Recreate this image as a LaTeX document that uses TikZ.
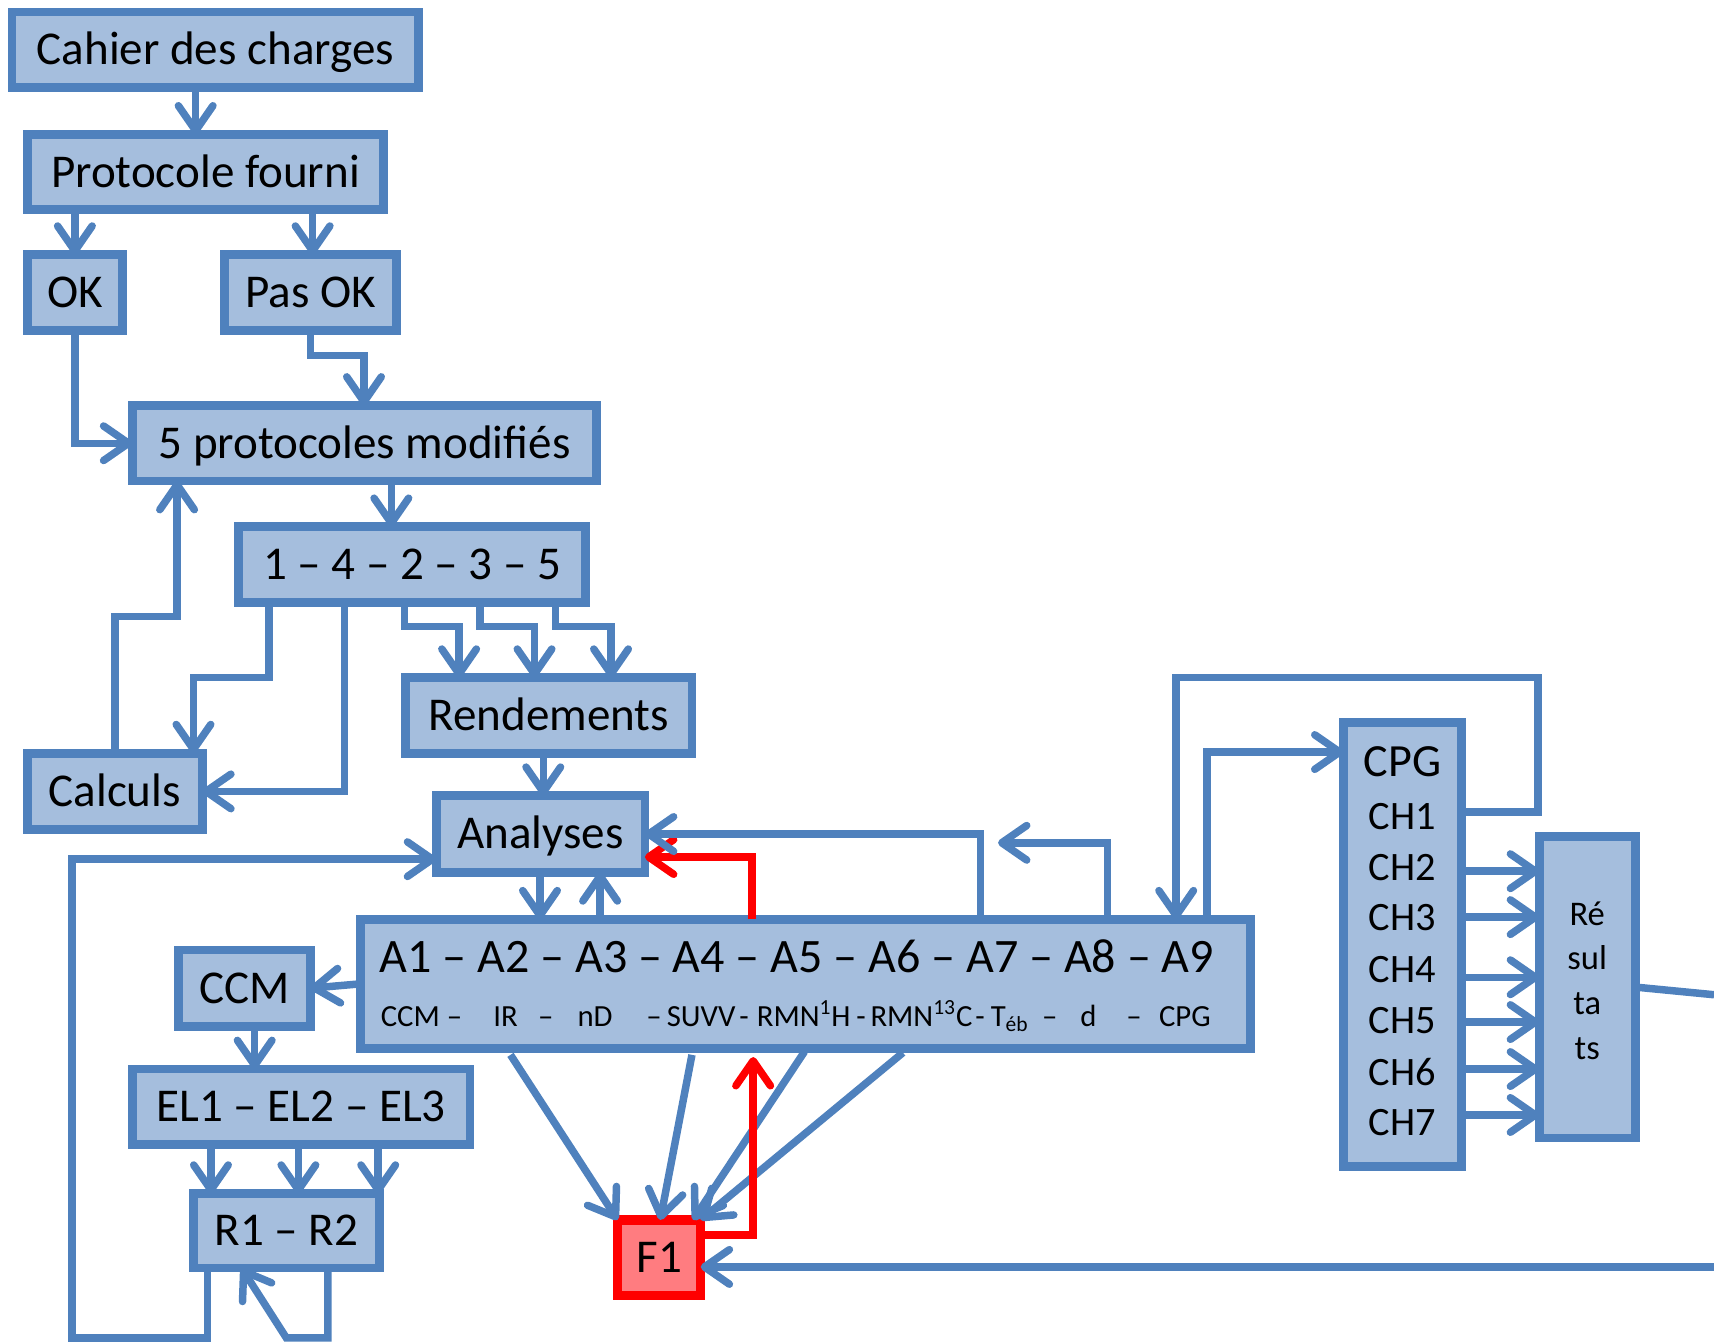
\documentclass[tikz,border=0pt]{standalone}
\usepackage{fontspec}
\setmainfont{Carlito}
\usetikzlibrary{arrows.meta,calc}
\definecolor{bline}{RGB}{79,129,189}
\definecolor{bfill}{RGB}{165,190,221}
\definecolor{rfill}{RGB}{255,124,128}
\begin{document}
\begin{tikzpicture}[x=0.02cm,y=-0.02cm,
  box/.style={draw=bline, fill=bfill, line width=4.6pt, inner sep=0pt, outer sep=0pt, rectangle, text=black, font=\fontsize{24.5}{29}\selectfont, text height=15.5pt, text depth=0pt},
  sz/.style 2 args={minimum width=#1*0.02cm, minimum height=#2*0.02cm},
  tip/.style={-{Straight Barb[length=13pt,width=18pt,round]}},
  conn/.style={draw=bline, line width=3.9pt, tip},
  rconn/.style={draw=red, line width=3.9pt, tip},
  plain/.style={draw=bline, line width=3.9pt},
  small/.style={font=\fontsize{16}{19}\selectfont, inner sep=0pt, anchor=base west},
  chs/.style={font=\fontsize{21}{25}\selectfont, inner sep=0pt, text height=13.3pt, text depth=0pt},
]
\useasboundingbox (0,0) rectangle (1568,1229);

% boxes
\node[box, sz={372}{69}] (cahier) at (197,45.5) {Cahier des charges};
\node[box, sz={326}{69}] (prot) at (188,157.5) {Protocole fourni};
\node[box, sz={87}{69}] (ok) at (68.5,267.5) {OK};
\node[box, sz={158}{69}] (pasok) at (284,267.5) {Pas OK};
\node[box, sz={425}{69}] (prot5) at (333.5,405.5) {5 protocoles modifiés};
\node[box, sz={318}{69}] (seq) at (377,516.5) {1 – 4 – 2 – 3 – 5};
\node[box, sz={262}{69}] (rend) at (502,654.5) {Rendements};
\node[box, sz={160}{70}] (calculs) at (105,724) {Calculs};
\node[box, sz={191}{70}] (ana) at (494.5,763) {Analyses};
\node[box, sz={814}{118}] (abox) at (737,900) {};
\node[box, sz={121}{70}] (ccm) at (223.5,904) {CCM};
\node[box, sz={309}{69}] (el) at (275.5,1012.5) {EL1 – EL2 – EL3};
\node[box, sz={170}{68}] (rr) at (262,1126) {R1 – R2};
\node[box, draw=red, fill=rfill, line width=5pt, sz={76}{69}] (f1) at (603,1150.5) {F1};
\node[box, sz={108}{406}] (cpg) at (1283,864) {};
\node[box, sz={88}{276}] (res) at (1452,903) {};

% texts in the analysis box
\node[anchor=base west, inner sep=0pt, font=\fontsize{25}{29}\selectfont] (aline) at (347,890) {A1 – A2 – A3 – A4 – A5 – A6 – A7 – A8 – A9};
\node[small] (s1) at (348,939.5) {CCM –};
\node[small] (s2) at (451,939.5) {IR};
\node[small] (s3) at (492,939.5) {–};
\node[small] (s4) at (528,939.5) {nD};
\node[small] (s5) at (591,939.5) {–\,SUVV};
\node[small] (s6) at (676,939.5) {-};
\node[small] (s7) at (692,939.5) {RMN\textsuperscript{1}H};
\node[small] (s8) at (783,939.5) {-};
\node[small] (s9) at (796,939.5) {RMN\textsuperscript{13}C};
\node[small] (s10) at (892,939.5) {-};
\node[small] (s11) at (906,939.5) {T\textsubscript{éb}};
\node[small] (s12) at (953,939.5) {–};
\node[small] (s13) at (988,939.5) {d};
\node[small] (s14) at (1030,939.5) {–};
\node[small] (s15) at (1060,939.5) {CPG};

% texts in CPG column
\node[font=\fontsize{24}{29}\selectfont, inner sep=0pt, text height=15.2pt, text depth=0pt] (cpgt) at (1283,697) {CPG};
\node[chs] (ch1) at (1283,747) {CH1};
\node[chs] (ch2) at (1283,794) {CH2};
\node[chs] (ch3) at (1283,840) {CH3};
\node[chs] (ch4) at (1283,887) {CH4};
\node[chs] (ch5) at (1283,934) {CH5};
\node[chs] (ch6) at (1283,981) {CH6};
\node[chs] (ch7) at (1283,1027) {CH7};
\node[align=center, inner sep=0pt, font=\fontsize{18}{23.2}\selectfont] (rest) at (1452,897) {Ré\\sul\\ta\\ts};

% connectors
\draw[conn] (cahier.south -| 179,0) -- (prot.north -| 179,0);
\draw[conn] (prot.south -| ok.north) -- (ok.north);
\draw[conn] (prot.south -| 286,0) -- (pasok.north -| 286,0);
\draw[conn] (ok.south) |- (prot5.west);
\draw[conn] (pasok.south) -- ++(0,23) -| (prot5.north -| 333,0);
\draw[conn] (prot5.south -| 358,0) -- (seq.north -| 358,0);
\draw[conn] (calculs.north) -- (calculs.north |- 0,564) -| (prot5.south -| 162,0);
\draw[conn] (seq.south -| 246,0) -- (246,620) -| (calculs.north -| 177,0);
\draw[conn] (seq.south -| 315,0) |- (calculs.east);
\foreach \a/\b in {370/420,439/489,508/559}
  \draw[conn] (seq.south -| \a,0) -- (\a,573) -| (rend.north -| \b,0);
\draw[conn] (rend.south -| 497,0) -- (ana.north -| 497,0);
\draw[conn] (ana.south -| 494,0) -- (abox.north -| 494,0);
\draw[conn] (abox.north -| 549,0) -- (ana.south -| 549,0);
\draw[conn] (rr.south -| 190,0) |- (66,1224) |- (ana.west |- 0,786);
\draw[conn] (rr.south -| 300,0) |- (262,1224) -- (rr.south -| 221,0);
\draw[conn] (abox.west |- 0,900) -- (ccm.east);
\draw[conn] (ccm.south -| 233,0) -- (el.north -| 233,0);
\foreach \a in {193,273,346}
  \draw[conn] (el.south -| \a,0) -- (rr.north -| \a,0);
\draw[conn] ($(abox.south -| 467,0)+(0,6)$) -- (f1.north west);
\draw[conn] ($(abox.south -| 633,0)+(0,6)$) -- (f1.north -| 604,0);
\draw[conn] ($(abox.south -| 736,0)+(0,3)$) -- (f1.north -| 634,0);
\draw[conn] ($(abox.south -| 826,0)+(0,4)$) -- (f1.north east);
\draw[rconn] (f1.east |- 0,1130) -| ($(abox.south -| 689,0)+(0,8)$);
\draw[rconn] (abox.north -| 688,0) |- (ana.east |- 0,784);
\draw[conn] (abox.north -| 897,0) |- (ana.east);
\coordinate (free) at (913,771);
\draw[conn] (abox.north -| 1013,0) |- (free);
\draw[conn] (cpg.east |- 0,743) -| (1407,620) -| (abox.north -| 1076,0);
\draw[conn] (abox.north -| 1104,0) |- (cpg.west |- 0,688);
\foreach \y in {797,839,894,935,978,1020}
  \draw[conn] (cpg.east |- 0,\y) -- (res.west |- 0,\y);
\coordinate (edge1) at (1568,910);
\coordinate (edge2) at (1568,1159);
\draw[plain] (res.east |- 0,903) -- (edge1);
\draw[conn] (edge2) -- (f1.east |- 0,1159);
\end{tikzpicture}
\end{document}
